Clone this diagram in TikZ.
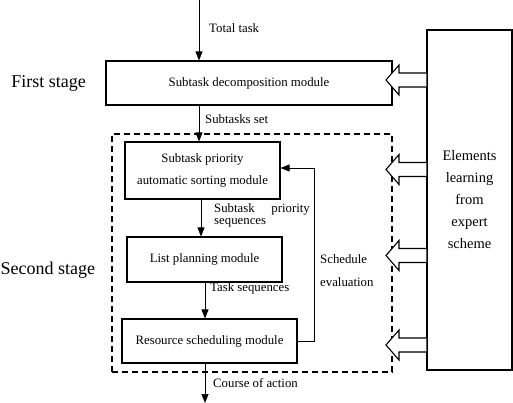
\documentclass[tikz,border=0pt]{standalone}
\usepackage{fontspec}
\setmainfont{Liberation Serif}
\usetikzlibrary{arrows.meta,calc}
\begin{document}
\begin{tikzpicture}[x=1pt,y=-1pt,
  box/.style={draw,line width=1.1pt,inner sep=0pt,align=center,font=\fontsize{12.8}{22}\selectfont},
  arr/.style={line width=0.7pt,-{Triangle[width=7pt,length=9pt]}},
  lbl/.style={font=\fontsize{12.8}{14}\selectfont,inner sep=0pt},
  stage/.style={font=\fontsize{18}{20}\selectfont,inner sep=0pt},
  hollow/.style={draw,line width=1.1pt,fill=white}]
\useasboundingbox (0,0) rectangle (513,403);
% nodes
\node[box,minimum width=286pt,minimum height=44pt] (dec) at (249,83) {Subtask decomposition module};
\node[draw,dash pattern=on 6pt off 4pt,line width=1.1pt,minimum width=280pt,minimum height=238pt,inner sep=0pt] (dash) at (252,253) {};
\node[box,minimum width=155pt,minimum height=57pt] (pri) at (202.5,170.5) {Subtask priority\\automatic sorting module};
\node[box,minimum width=155pt,minimum height=45pt] (lst) at (204.5,259.5) {List planning module};
\node[box,minimum width=175pt,minimum height=44pt] (res) at (209.5,341) {Resource scheduling module};
\node[box,minimum width=85pt,minimum height=340pt,font=\fontsize{14.5}{22}\selectfont] (exp) at (469.5,200) {Elements\\learning\\from\\expert\\scheme};
\coordinate (top) at (199,0);
\coordinate (bot) at (205,403);
\coordinate (fb) at (314,0);
% stage labels
\node[stage,anchor=east] (s1) at (86,83) {First stage};
\node[stage,anchor=west] (s2) at (0.5,270) {Second stage};
% connectors
\draw[arr] (top) -- (top |- dec.north);
\draw[arr] (dec.south -| top) -- (pri.north -| top);
\draw[arr] ($(pri.south)+(-1.5,0)$) -- ($(lst.north)+(-3.5,0)$);
\draw[arr] ($(lst.south)+(0.5,0)$) -- ($(res.north)+(-4.5,0)$);
\draw[arr] (res.south -| bot) -- (bot);
\draw[line width=0.7pt,-{Triangle[width=7pt,length=9pt]}] (res.east) -- (fb |- res.east) -- ($(fb |- pri.east)+(0,-2.5)$) -- ($(pri.east)+(0,-2.5)$);
% labels
\node[lbl,anchor=west] (l1) at (209,28) {Total task};
\node[lbl,anchor=west] (l2) at (205,119) {Subtasks set};
\node[lbl,anchor=west] (l3) at (214,209) {Subtask\hspace{1.3em}priority};
\node[lbl,anchor=west] (l4) at (214,223) {sequences};
\node[lbl,anchor=west] (l5) at (210,288) {Task sequences};
\node[lbl,anchor=west] (l6) at (320,259) {Schedule};
\node[lbl,anchor=west] (l7) at (320,282) {evaluation};
\node[lbl,anchor=west] (l8) at (213,383) {Course of action};
% hollow block arrows
\foreach \yy in {80,169.5,255.5,345}{
  \draw[hollow] (exp.west |- 0,\yy-7) -- (399,\yy-7) -- (399,\yy-15) -- (386,\yy) -- (399,\yy+15) -- (399,\yy+7) -- (exp.west |- 0,\yy+7);
}
\end{tikzpicture}
\end{document}
